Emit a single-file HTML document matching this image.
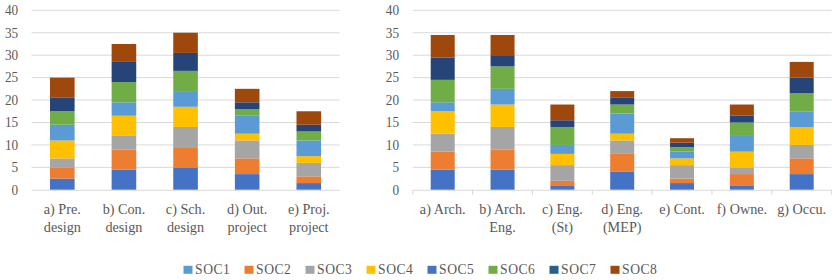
<!DOCTYPE html>
<html><head><meta charset="utf-8"><style>
html,body{margin:0;padding:0;background:#fff;}
body{width:836px;height:280px;overflow:hidden;}
svg{display:block;}
text{font-family:"Liberation Serif",serif;fill:#595959;}
.yl{font-size:13.5px;text-anchor:end;}
.xl{font-size:14.2px;text-anchor:middle;}
.lg{font-size:13.6px;letter-spacing:0.5px;}
</style></head><body>
<svg width="836" height="280" viewBox="0 0 836 280">
<rect width="836" height="280" fill="#fff"/>
<line x1="31.50" y1="167.36" x2="339.60" y2="167.36" stroke="#D9D9D9" stroke-width="1"/>
<line x1="31.50" y1="144.93" x2="339.60" y2="144.93" stroke="#D9D9D9" stroke-width="1"/>
<line x1="31.50" y1="122.49" x2="339.60" y2="122.49" stroke="#D9D9D9" stroke-width="1"/>
<line x1="31.50" y1="100.05" x2="339.60" y2="100.05" stroke="#D9D9D9" stroke-width="1"/>
<line x1="31.50" y1="77.61" x2="339.60" y2="77.61" stroke="#D9D9D9" stroke-width="1"/>
<line x1="31.50" y1="55.18" x2="339.60" y2="55.18" stroke="#D9D9D9" stroke-width="1"/>
<line x1="31.50" y1="32.74" x2="339.60" y2="32.74" stroke="#D9D9D9" stroke-width="1"/>
<line x1="31.50" y1="10.30" x2="339.60" y2="10.30" stroke="#D9D9D9" stroke-width="1"/>
<text transform="translate(18.20,194.60) scale(0.98,1.12)" class="yl">0</text>
<text transform="translate(18.20,172.16) scale(0.98,1.12)" class="yl">5</text>
<text transform="translate(18.20,149.73) scale(0.98,1.12)" class="yl">10</text>
<text transform="translate(18.20,127.29) scale(0.98,1.12)" class="yl">15</text>
<text transform="translate(18.20,104.85) scale(0.98,1.12)" class="yl">20</text>
<text transform="translate(18.20,82.41) scale(0.98,1.12)" class="yl">25</text>
<text transform="translate(18.20,59.98) scale(0.98,1.12)" class="yl">30</text>
<text transform="translate(18.20,37.54) scale(0.98,1.12)" class="yl">35</text>
<text transform="translate(18.20,15.10) scale(0.98,1.12)" class="yl">40</text>
<rect x="50.01" y="178.58" width="24.60" height="11.22" fill="#4472C4"/>
<rect x="50.01" y="167.36" width="24.60" height="11.22" fill="#ED7D31"/>
<rect x="50.01" y="158.39" width="24.60" height="8.97" fill="#A5A5A5"/>
<rect x="50.01" y="140.44" width="24.60" height="17.95" fill="#FFC000"/>
<rect x="50.01" y="124.73" width="24.60" height="15.71" fill="#5B9BD5"/>
<rect x="50.01" y="111.27" width="24.60" height="13.46" fill="#70AD47"/>
<rect x="50.01" y="97.81" width="24.60" height="13.46" fill="#264478"/>
<rect x="50.01" y="77.61" width="24.60" height="20.19" fill="#9E480E"/>
<text x="62.31" y="214.30" class="xl">a) Pre.</text>
<text x="62.31" y="232.20" class="xl">design</text>
<rect x="111.63" y="169.61" width="24.60" height="20.19" fill="#4472C4"/>
<rect x="111.63" y="149.41" width="24.60" height="20.19" fill="#ED7D31"/>
<rect x="111.63" y="135.95" width="24.60" height="13.46" fill="#A5A5A5"/>
<rect x="111.63" y="115.76" width="24.60" height="20.19" fill="#FFC000"/>
<rect x="111.63" y="102.29" width="24.60" height="13.46" fill="#5B9BD5"/>
<rect x="111.63" y="82.10" width="24.60" height="20.19" fill="#70AD47"/>
<rect x="111.63" y="61.91" width="24.60" height="20.19" fill="#264478"/>
<rect x="111.63" y="43.96" width="24.60" height="17.95" fill="#9E480E"/>
<text x="123.93" y="214.30" class="xl">b) Con.</text>
<text x="123.93" y="232.20" class="xl">design</text>
<rect x="173.25" y="167.36" width="24.60" height="22.44" fill="#4472C4"/>
<rect x="173.25" y="147.17" width="24.60" height="20.19" fill="#ED7D31"/>
<rect x="173.25" y="126.98" width="24.60" height="20.19" fill="#A5A5A5"/>
<rect x="173.25" y="106.78" width="24.60" height="20.19" fill="#FFC000"/>
<rect x="173.25" y="91.08" width="24.60" height="15.71" fill="#5B9BD5"/>
<rect x="173.25" y="70.88" width="24.60" height="20.19" fill="#70AD47"/>
<rect x="173.25" y="52.93" width="24.60" height="17.95" fill="#264478"/>
<rect x="173.25" y="32.74" width="24.60" height="20.19" fill="#9E480E"/>
<text x="185.55" y="214.30" class="xl">c) Sch.</text>
<text x="185.55" y="232.20" class="xl">design</text>
<rect x="234.87" y="174.09" width="24.60" height="15.71" fill="#4472C4"/>
<rect x="234.87" y="158.39" width="24.60" height="15.71" fill="#ED7D31"/>
<rect x="234.87" y="140.44" width="24.60" height="17.95" fill="#A5A5A5"/>
<rect x="234.87" y="133.71" width="24.60" height="6.73" fill="#FFC000"/>
<rect x="234.87" y="115.76" width="24.60" height="17.95" fill="#5B9BD5"/>
<rect x="234.87" y="109.03" width="24.60" height="6.73" fill="#70AD47"/>
<rect x="234.87" y="102.29" width="24.60" height="6.73" fill="#264478"/>
<rect x="234.87" y="88.83" width="24.60" height="13.46" fill="#9E480E"/>
<text x="247.17" y="214.30" class="xl">d) Out.</text>
<text x="247.17" y="232.20" class="xl">project</text>
<rect x="296.49" y="183.07" width="24.60" height="6.73" fill="#4472C4"/>
<rect x="296.49" y="176.34" width="24.60" height="6.73" fill="#ED7D31"/>
<rect x="296.49" y="162.88" width="24.60" height="13.46" fill="#A5A5A5"/>
<rect x="296.49" y="156.14" width="24.60" height="6.73" fill="#FFC000"/>
<rect x="296.49" y="140.44" width="24.60" height="15.71" fill="#5B9BD5"/>
<rect x="296.49" y="131.46" width="24.60" height="8.97" fill="#70AD47"/>
<rect x="296.49" y="124.73" width="24.60" height="6.73" fill="#264478"/>
<rect x="296.49" y="111.27" width="24.60" height="13.46" fill="#9E480E"/>
<text x="308.79" y="214.30" class="xl">e) Proj.</text>
<text x="308.79" y="232.20" class="xl">project</text>
<line x1="31.50" y1="190.30" x2="339.60" y2="190.30" stroke="#D9D9D9" stroke-width="1"/>
<line x1="412.80" y1="167.36" x2="831.61" y2="167.36" stroke="#D9D9D9" stroke-width="1"/>
<line x1="412.80" y1="144.93" x2="831.61" y2="144.93" stroke="#D9D9D9" stroke-width="1"/>
<line x1="412.80" y1="122.49" x2="831.61" y2="122.49" stroke="#D9D9D9" stroke-width="1"/>
<line x1="412.80" y1="100.05" x2="831.61" y2="100.05" stroke="#D9D9D9" stroke-width="1"/>
<line x1="412.80" y1="77.61" x2="831.61" y2="77.61" stroke="#D9D9D9" stroke-width="1"/>
<line x1="412.80" y1="55.18" x2="831.61" y2="55.18" stroke="#D9D9D9" stroke-width="1"/>
<line x1="412.80" y1="32.74" x2="831.61" y2="32.74" stroke="#D9D9D9" stroke-width="1"/>
<line x1="412.80" y1="10.30" x2="831.61" y2="10.30" stroke="#D9D9D9" stroke-width="1"/>
<text transform="translate(399.00,194.60) scale(0.98,1.12)" class="yl">0</text>
<text transform="translate(399.00,172.16) scale(0.98,1.12)" class="yl">5</text>
<text transform="translate(399.00,149.73) scale(0.98,1.12)" class="yl">10</text>
<text transform="translate(399.00,127.29) scale(0.98,1.12)" class="yl">15</text>
<text transform="translate(399.00,104.85) scale(0.98,1.12)" class="yl">20</text>
<text transform="translate(399.00,82.41) scale(0.98,1.12)" class="yl">25</text>
<text transform="translate(399.00,59.98) scale(0.98,1.12)" class="yl">30</text>
<text transform="translate(399.00,37.54) scale(0.98,1.12)" class="yl">35</text>
<text transform="translate(399.00,15.10) scale(0.98,1.12)" class="yl">40</text>
<rect x="430.72" y="169.61" width="24.00" height="20.19" fill="#4472C4"/>
<rect x="430.72" y="151.66" width="24.00" height="17.95" fill="#ED7D31"/>
<rect x="430.72" y="133.71" width="24.00" height="17.95" fill="#A5A5A5"/>
<rect x="430.72" y="111.27" width="24.00" height="22.44" fill="#FFC000"/>
<rect x="430.72" y="102.29" width="24.00" height="8.97" fill="#5B9BD5"/>
<rect x="430.72" y="79.86" width="24.00" height="22.44" fill="#70AD47"/>
<rect x="430.72" y="57.42" width="24.00" height="22.44" fill="#264478"/>
<rect x="430.72" y="34.98" width="24.00" height="22.44" fill="#9E480E"/>
<text x="442.72" y="214.30" class="xl">a) Arch.</text>
<rect x="490.55" y="169.61" width="24.00" height="20.19" fill="#4472C4"/>
<rect x="490.55" y="149.41" width="24.00" height="20.19" fill="#ED7D31"/>
<rect x="490.55" y="126.98" width="24.00" height="22.44" fill="#A5A5A5"/>
<rect x="490.55" y="104.54" width="24.00" height="22.44" fill="#FFC000"/>
<rect x="490.55" y="88.83" width="24.00" height="15.71" fill="#5B9BD5"/>
<rect x="490.55" y="66.39" width="24.00" height="22.44" fill="#70AD47"/>
<rect x="490.55" y="55.18" width="24.00" height="11.22" fill="#264478"/>
<rect x="490.55" y="34.98" width="24.00" height="20.19" fill="#9E480E"/>
<text x="502.55" y="214.30" class="xl">b) Arch.</text>
<text x="502.55" y="232.20" class="xl">Eng.</text>
<rect x="550.38" y="185.31" width="24.00" height="4.49" fill="#4472C4"/>
<rect x="550.38" y="180.83" width="24.00" height="4.49" fill="#ED7D31"/>
<rect x="550.38" y="165.12" width="24.00" height="15.71" fill="#A5A5A5"/>
<rect x="550.38" y="153.90" width="24.00" height="11.22" fill="#FFC000"/>
<rect x="550.38" y="144.93" width="24.00" height="8.97" fill="#5B9BD5"/>
<rect x="550.38" y="126.98" width="24.00" height="17.95" fill="#70AD47"/>
<rect x="550.38" y="120.24" width="24.00" height="6.73" fill="#264478"/>
<rect x="550.38" y="104.54" width="24.00" height="15.71" fill="#9E480E"/>
<text x="562.38" y="214.30" class="xl">c) Eng.</text>
<text x="562.38" y="232.20" class="xl">(St)</text>
<rect x="610.21" y="171.85" width="24.00" height="17.95" fill="#4472C4"/>
<rect x="610.21" y="153.90" width="24.00" height="17.95" fill="#ED7D31"/>
<rect x="610.21" y="140.44" width="24.00" height="13.46" fill="#A5A5A5"/>
<rect x="610.21" y="133.71" width="24.00" height="6.73" fill="#FFC000"/>
<rect x="610.21" y="113.51" width="24.00" height="20.19" fill="#5B9BD5"/>
<rect x="610.21" y="104.54" width="24.00" height="8.98" fill="#70AD47"/>
<rect x="610.21" y="97.81" width="24.00" height="6.73" fill="#264478"/>
<rect x="610.21" y="91.08" width="24.00" height="6.73" fill="#9E480E"/>
<text x="622.21" y="214.30" class="xl">d) Eng.</text>
<text x="622.21" y="232.20" class="xl">(MEP)</text>
<rect x="670.04" y="183.07" width="24.00" height="6.73" fill="#4472C4"/>
<rect x="670.04" y="178.58" width="24.00" height="4.49" fill="#ED7D31"/>
<rect x="670.04" y="165.12" width="24.00" height="13.46" fill="#A5A5A5"/>
<rect x="670.04" y="158.39" width="24.00" height="6.73" fill="#FFC000"/>
<rect x="670.04" y="151.66" width="24.00" height="6.73" fill="#5B9BD5"/>
<rect x="670.04" y="147.17" width="24.00" height="4.49" fill="#70AD47"/>
<rect x="670.04" y="142.68" width="24.00" height="4.49" fill="#264478"/>
<rect x="670.04" y="138.19" width="24.00" height="4.49" fill="#9E480E"/>
<text x="682.04" y="214.30" class="xl">e) Cont.</text>
<rect x="729.87" y="185.31" width="24.00" height="4.49" fill="#4472C4"/>
<rect x="729.87" y="174.09" width="24.00" height="11.22" fill="#ED7D31"/>
<rect x="729.87" y="167.36" width="24.00" height="6.73" fill="#A5A5A5"/>
<rect x="729.87" y="151.66" width="24.00" height="15.71" fill="#FFC000"/>
<rect x="729.87" y="135.95" width="24.00" height="15.71" fill="#5B9BD5"/>
<rect x="729.87" y="122.49" width="24.00" height="13.46" fill="#70AD47"/>
<rect x="729.87" y="115.76" width="24.00" height="6.73" fill="#264478"/>
<rect x="729.87" y="104.54" width="24.00" height="11.22" fill="#9E480E"/>
<text x="741.87" y="214.30" class="xl">f) Owne.</text>
<rect x="789.69" y="174.09" width="24.00" height="15.71" fill="#4472C4"/>
<rect x="789.69" y="158.39" width="24.00" height="15.71" fill="#ED7D31"/>
<rect x="789.69" y="144.93" width="24.00" height="13.46" fill="#A5A5A5"/>
<rect x="789.69" y="126.98" width="24.00" height="17.95" fill="#FFC000"/>
<rect x="789.69" y="111.27" width="24.00" height="15.71" fill="#5B9BD5"/>
<rect x="789.69" y="93.32" width="24.00" height="17.95" fill="#70AD47"/>
<rect x="789.69" y="77.61" width="24.00" height="15.71" fill="#264478"/>
<rect x="789.69" y="61.91" width="24.00" height="15.71" fill="#9E480E"/>
<text x="801.69" y="214.30" class="xl">g) Occu.</text>
<line x1="412.80" y1="190.30" x2="831.61" y2="190.30" stroke="#D9D9D9" stroke-width="1"/>
<line x1="412.80" y1="189.80" x2="412.80" y2="194.80" stroke="#D9D9D9" stroke-width="1"/>
<line x1="472.63" y1="189.80" x2="472.63" y2="194.80" stroke="#D9D9D9" stroke-width="1"/>
<line x1="532.46" y1="189.80" x2="532.46" y2="194.80" stroke="#D9D9D9" stroke-width="1"/>
<line x1="592.29" y1="189.80" x2="592.29" y2="194.80" stroke="#D9D9D9" stroke-width="1"/>
<line x1="652.12" y1="189.80" x2="652.12" y2="194.80" stroke="#D9D9D9" stroke-width="1"/>
<line x1="711.95" y1="189.80" x2="711.95" y2="194.80" stroke="#D9D9D9" stroke-width="1"/>
<line x1="771.78" y1="189.80" x2="771.78" y2="194.80" stroke="#D9D9D9" stroke-width="1"/>
<line x1="831.61" y1="189.80" x2="831.61" y2="194.80" stroke="#D9D9D9" stroke-width="1"/>
<rect x="183.50" y="265.8" width="9" height="8" fill="#5B9BD5"/>
<text x="195.10" y="273.8" class="lg">SOC1</text>
<rect x="244.50" y="265.8" width="9" height="8" fill="#ED7D31"/>
<text x="256.10" y="273.8" class="lg">SOC2</text>
<rect x="305.50" y="265.8" width="9" height="8" fill="#A5A5A5"/>
<text x="317.10" y="273.8" class="lg">SOC3</text>
<rect x="366.50" y="265.8" width="9" height="8" fill="#FFC000"/>
<text x="378.10" y="273.8" class="lg">SOC4</text>
<rect x="427.50" y="265.8" width="9" height="8" fill="#4472C4"/>
<text x="439.10" y="273.8" class="lg">SOC5</text>
<rect x="488.50" y="265.8" width="9" height="8" fill="#70AD47"/>
<text x="500.10" y="273.8" class="lg">SOC6</text>
<rect x="549.50" y="265.8" width="9" height="8" fill="#255E91"/>
<text x="561.10" y="273.8" class="lg">SOC7</text>
<rect x="610.50" y="265.8" width="9" height="8" fill="#9E480E"/>
<text x="622.10" y="273.8" class="lg">SOC8</text>
</svg>
</body></html>
